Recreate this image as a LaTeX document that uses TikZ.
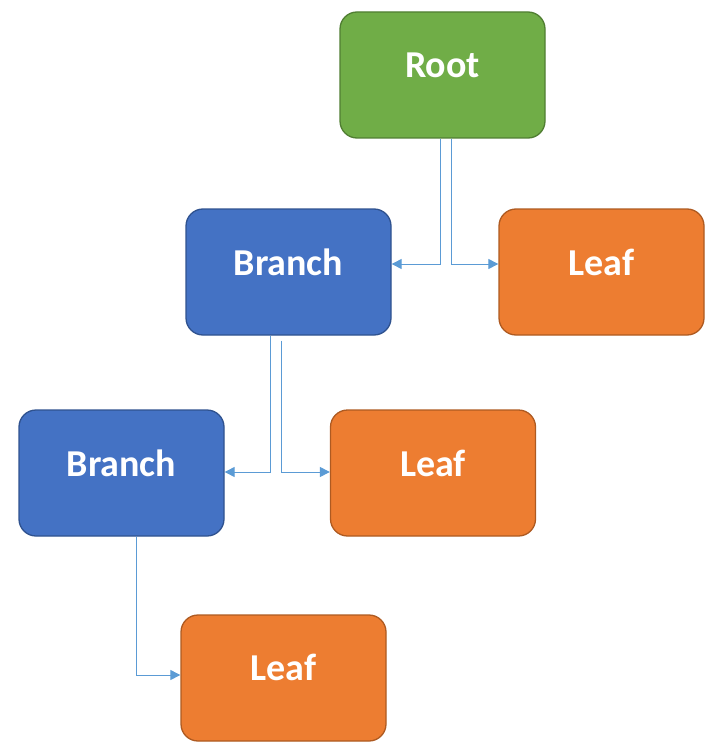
\documentclass[tikz,border=0pt]{standalone}
\usepackage{fontspec}
\setmainfont{Carlito}
\usetikzlibrary{arrows.meta}
\definecolor{gfill}{HTML}{70AD47}
\definecolor{gdraw}{HTML}{507E32}
\definecolor{bfill}{HTML}{4472C4}
\definecolor{bdraw}{HTML}{2F528F}
\definecolor{ofill}{HTML}{ED7D31}
\definecolor{odraw}{HTML}{AE5A21}
\definecolor{conncol}{HTML}{5B9BD5}
\tikzset{
  box/.style={rectangle, rounded corners=17pt, line width=1.3pt, minimum width=205pt, minimum height=126pt, inner sep=0pt},
  rootbox/.style={box, fill=gfill, draw=gdraw},
  branchbox/.style={box, fill=bfill, draw=bdraw},
  leafbox/.style={box, fill=ofill, draw=odraw},
  lbl/.style={text=white, font=\fontsize{38}{40}\selectfont\bfseries, anchor=base, inner sep=0pt},
  conn/.style={draw=conncol, line width=1pt, -{Triangle[length=10pt,width=10pt]}}
}
\begin{document}
\begin{tikzpicture}[x=1pt,y=-1pt]
\useasboundingbox (0,0) rectangle (724,754);
% boxes
\node[rootbox] (root) at (442.5,75) {};
\node[branchbox] (b1) at (288.5,272) {};
\node[leafbox] (l1) at (601.5,272) {};
\node[branchbox] (b2) at (121.5,473) {};
\node[leafbox] (l2) at (433,473) {};
\node[leafbox] (l3) at (283.5,678) {};
% labels
\node[lbl] (rootT) at (442.5,78) {Root};
\node[lbl] (b1T) at (288.5,275) {Branch};
\node[lbl] (l1T) at (601.5,275) {Leaf};
\node[lbl] (b2T) at (121.5,476) {Branch};
\node[lbl] (l2T) at (433,476) {Leaf};
\node[lbl] (l3T) at (283.5,680) {Leaf};
% connectors
\draw[conn] ([xshift=-2.5pt]root.south) |- ([yshift=8pt]b1.east);
\draw[conn] ([xshift=8.5pt]root.south) |- ([yshift=8pt]l1.west);
\draw[conn] ([xshift=-18.5pt]b1.south) |- ([yshift=1pt]b2.east);
\draw[conn] ([xshift=-7.5pt,yshift=-5pt]b1.south) |- ([yshift=1pt]l2.west);
\draw[conn] ([xshift=14.5pt]b2.south) |- ([yshift=3pt]l3.west);
\end{tikzpicture}
\end{document}
